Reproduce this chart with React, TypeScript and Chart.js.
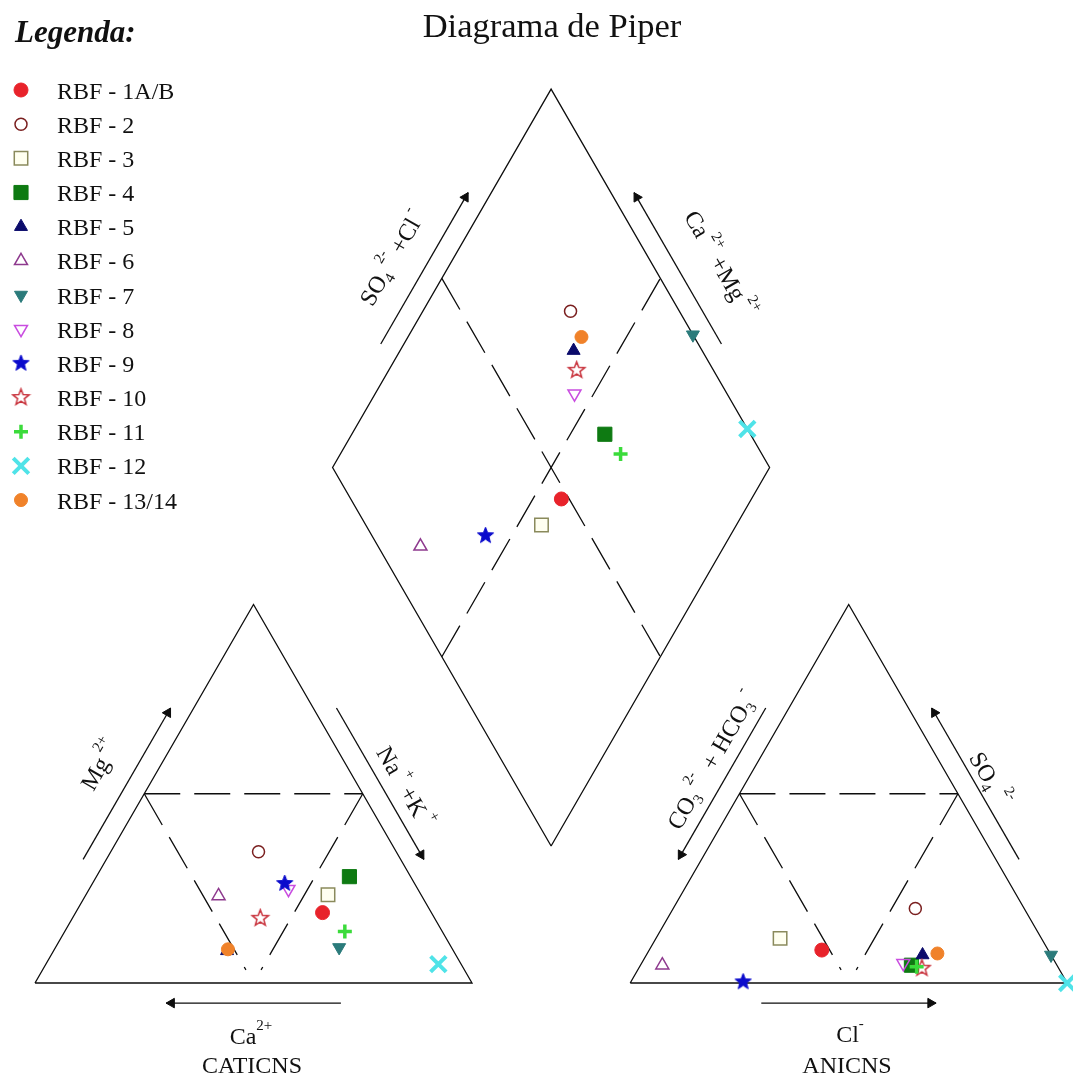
import React, { useEffect, useRef } from 'react';
import { Chart, registerables } from 'chart.js';
import { drawPoint } from 'chart.js/helpers';

Chart.register(...registerables);

// ---------------- data (percent of meq/L) ----------------
const samples = ['RBF - 1A/B', 'RBF - 2', 'RBF - 3', 'RBF - 4', 'RBF - 5', 'RBF - 6', 'RBF - 7', 'RBF - 8', 'RBF - 9', 'RBF - 10', 'RBF - 11', 'RBF - 12', 'RBF - 13/14'];
// cations
const caPct = [24.9, 31.5, 21.3, 14.0, 51.8, 46.5, 25.7, 29.6, 29.7, 39.9, 22.3, 5.2, 51.4];
const mgPct = [18.6, 34.7, 23.3, 28.1, 8.5, 23.0, 9.4, 24.8, 26.3, 17.1, 13.6, 5.0, 8.9];
const naKPct = [56.5, 33.8, 55.4, 57.9, 39.7, 30.5, 64.9, 45.6, 44.0, 43.0, 64.1, 89.8, 39.7];
// anions
const hco3Pct = [51.8, 24.9, 59.8, 33.3, 29.4, 90.3, 0.0, 34.9, 74.0, 31.3, 32.3, 0.0, 25.8];
const so4Pct = [8.7, 19.7, 11.8, 4.7, 7.4, 4.7, 7.4, 5.2, 0.3, 3.9, 4.3, 0.0, 7.8];
const clPct = [39.5, 55.4, 28.4, 62.0, 63.2, 5.0, 92.6, 59.9, 25.7, 64.8, 63.4, 100.0, 66.4];

const titleText = 'Diagrama de Piper';
const legendTitle = 'Legenda:';
const cationTitle = 'CATICNS';
const anionTitle = 'ANICNS';

// ---------------- marker styles ----------------
const markerShape = ['circle', 'circle', 'rect', 'rect', 'triangle', 'triangle', 'triangle', 'triangle', 'starFilled', 'starOpen', 'cross', 'crossRot', 'circle'];
const markerFill = ['#E8232B', 'rgba(255,255,255,0)', '#FFFFF0', '#0E7A12', '#0B0B6B', 'rgba(255,255,255,0)', '#2B7B7B', 'rgba(255,255,255,0)', '#0A0ACC', '#C8323C', '#3BDB3B', '#4FE3E8', '#F0822A'];
const markerLine = ['#E8232B', '#7A1F1F', '#8A8A5C', '#0E7A12', '#0B0B6B', '#8E3A8E', '#2B7B7B', '#C94DE0', '#0A0ACC', '#C8323C', '#3BDB3B', '#4FE3E8', '#F0822A'];
const markerRadius = [7, 6, 9.5, 10, 7.5, 7.5, 7.5, 7.5, 8, 8, 7, 11, 6.5];
const markerBorder = [1, 1.5, 1.5, 1, 1, 1.5, 1, 1.5, 1, 1.5, 3.5, 4, 1];
const markerRotation = [0, 0, 0, 0, 0, 0, 180, 180, 0, 0, 0, 0, 0];

// ---------------- geometry (layout) ----------------
const SIDE = 100;
const H = (SIDE * Math.sqrt(3)) / 2;
const OX = 136.2; // left vertex of anion triangle
const GAP = OX - SIDE;
const PXU = 4.37; // pixels per unit
const X_MIN = -35 / PXU;
const X_MAX = (1073 - 35) / PXU;
const Y_MIN = (983 - 1079) / PXU;
const Y_MAX = 983 / PXU;

type P = { x: number; y: number };
const DB: P = { x: SIDE + GAP / 2, y: (GAP * Math.sqrt(3)) / 2 };
const V = {
  cA: { x: 0, y: 0 }, cB: { x: SIDE, y: 0 }, cC: { x: SIDE / 2, y: H },
  aA: { x: OX, y: 0 }, aB: { x: OX + SIDE, y: 0 }, aC: { x: OX + SIDE / 2, y: H },
  dB: DB, dL: { x: DB.x - SIDE / 2, y: DB.y + H }, dT: { x: DB.x, y: DB.y + 2 * H }, dR: { x: DB.x + SIDE / 2, y: DB.y + H },
};

function cationXY(ca: number, mg: number, na: number): P {
  const t = ca + mg + na;
  return { x: ((na + mg / 2) / t) * SIDE, y: (mg / t) * H };
}
function anionXY(hco3: number, so4: number, cl: number): P {
  const t = hco3 + so4 + cl;
  return { x: OX + ((cl + so4 / 2) / t) * SIDE, y: (so4 / t) * H };
}
function diamondXY(caMg: number, so4Cl: number): P {
  return { x: DB.x + ((so4Cl - caMg) / 100) * (SIDE / 2), y: DB.y + ((so4Cl + caMg) / 100) * H };
}
function lerp(a: P, b: P, t: number): P {
  return { x: a.x + (b.x - a.x) * t, y: a.y + (b.y - a.y) * t };
}

const centC: P = { x: SIDE / 2, y: H / 3 };
const centA: P = { x: OX + SIDE / 2, y: H / 3 };
const centD: P = { x: DB.x, y: DB.y + H };

function edgeArrow(p: P, q: P, cent: P, t0 = 0.3, t1 = 0.7, off = 4.6) {
  const dx = q.x - p.x, dy = q.y - p.y;
  const len = Math.hypot(dx, dy);
  const d = { x: dx / len, y: dy / len };
  let n = { x: -d.y, y: d.x };
  const mid = lerp(p, q, 0.5);
  if ((mid.x - cent.x) * n.x + (mid.y - cent.y) * n.y < 0) n = { x: -n.x, y: -n.y };
  const s = lerp(p, q, t0), e = lerp(p, q, t1);
  const start = { x: s.x + n.x * off, y: s.y + n.y * off };
  const end = { x: e.x + n.x * off, y: e.y + n.y * off };
  const headR = 5.5;
  const head = { x: end.x - d.x * (headR / PXU), y: end.y - d.y * (headR / PXU) };
  const rot = (Math.atan2(d.x, d.y) * 180) / Math.PI;
  return { start, end, head, rot };
}

const arrows = [
  edgeArrow(V.cA, V.cC, centC),
  edgeArrow(V.cC, V.cB, centC),
  edgeArrow(V.cB, V.cA, centC),
  edgeArrow(V.aC, V.aA, centA),
  edgeArrow(V.aB, V.aC, centA),
  edgeArrow(V.aA, V.aB, centA),
  edgeArrow(V.dL, V.dT, centD),
  edgeArrow(V.dR, V.dT, centD),
];

const stopY = 3;
function innerTri(ox: number) {
  const l = { x: ox + SIDE / 4, y: H / 2 };
  const r = { x: ox + (3 * SIDE) / 4, y: H / 2 };
  const m = { x: ox + SIDE / 2, y: 0 };
  const f = (H / 2 - stopY) / (H / 2);
  return [[l, r], [l, lerp(l, m, f)], [r, lerp(r, m, f)]];
}

const solidLines: P[][] = [
  [V.cA, V.cB, V.cC, V.cA],
  [V.aA, V.aB, V.aC, V.aA],
  [V.dB, V.dL, V.dT, V.dR, V.dB],
];
const dashedLines: P[][] = [
  ...innerTri(0),
  ...innerTri(OX),
  [diamondXY(100, 50), diamondXY(0, 50)],
  [diamondXY(50, 0), diamondXY(50, 100)],
];

// ---------------- text labels ----------------
type Seg = { t: string; k?: 'sup' | 'sub' };
type Lbl = { segs: Seg[]; at: [number, number]; rot: number; size: number };
const U = (px: number, py: number): [number, number] => [(px - 35) / PXU, (983 - py) / PXU];
const axisLabels: Lbl[] = [
  { segs: [{ t: 'Mg' }, { t: ' 2+', k: 'sup' }], at: U(100, 765), rot: -60, size: 24 },
  { segs: [{ t: 'Na' }, { t: ' +', k: 'sup' }, { t: ' +K' }, { t: ' +', k: 'sup' }], at: U(405, 787), rot: 60, size: 24 },
  { segs: [{ t: 'Ca' }, { t: '2+', k: 'sup' }], at: U(251, 1036), rot: 0, size: 24 },
  { segs: [{ t: cationTitle }], at: U(252, 1065), rot: 0, size: 24 },
  { segs: [{ t: 'CO' }, { t: '3', k: 'sub' }, { t: ' 2-', k: 'sup' }, { t: '  + HCO' }, { t: '3', k: 'sub' }, { t: ' -', k: 'sup' }], at: U(712, 760), rot: -60, size: 24 },
  { segs: [{ t: 'SO' }, { t: '4', k: 'sub' }, { t: '  2-', k: 'sup' }], at: U(990, 779), rot: 60, size: 24 },
  { segs: [{ t: 'Cl' }, { t: '-', k: 'sup' }], at: U(850, 1034), rot: 0, size: 24 },
  { segs: [{ t: anionTitle }], at: U(847, 1065), rot: 0, size: 24 },
  { segs: [{ t: 'SO' }, { t: '4', k: 'sub' }, { t: ' 2-', k: 'sup' }, { t: ' +Cl' }, { t: ' -', k: 'sup' }], at: U(392, 258), rot: -60, size: 24 },
  { segs: [{ t: 'Ca' }, { t: ' 2+', k: 'sup' }, { t: ' +Mg' }, { t: ' 2+', k: 'sup' }], at: U(720, 264), rot: 60, size: 24 },
];

const SERIF = '"Liberation Serif", "Times New Roman", serif';
const INK = '#111';

function drawRich(ctx: CanvasRenderingContext2D, l: Lbl, cx: number, cy: number) {
  const main = `${l.size}px ${SERIF}`;
  const small = `${Math.round(l.size * 0.64)}px ${SERIF}`;
  const widths = l.segs.map((s) => {
    ctx.font = s.k ? small : main;
    return ctx.measureText(s.t).width;
  });
  const total = widths.reduce((a, b) => a + b, 0);
  ctx.save();
  ctx.translate(cx, cy);
  ctx.rotate((l.rot * Math.PI) / 180);
  ctx.textAlign = 'left';
  ctx.textBaseline = 'alphabetic';
  ctx.fillStyle = INK;
  const base = l.size * 0.33;
  let x = -total / 2;
  l.segs.forEach((s, i) => {
    ctx.font = s.k ? small : main;
    let y = base;
    if (s.k === 'sup') y = base - l.size * 0.58;
    if (s.k === 'sub') y = base + l.size * 0.2;
    ctx.fillText(s.t, x, y);
    x += widths[i];
  });
  ctx.restore();
}

function makeStar(fill: string | null, stroke: string | null, lw: number, R = 8.5, r = 3.6) {
  const c = document.createElement('canvas');
  const s = 21;
  c.width = s;
  c.height = s;
  const g = c.getContext('2d')!;
  g.beginPath();
  for (let i = 0; i < 10; i++) {
    const a = -Math.PI / 2 + (i * Math.PI) / 5;
    const rr = i % 2 === 0 ? R : r;
    g.lineTo(s / 2 + rr * Math.cos(a), s / 2 + rr * Math.sin(a));
  }
  g.closePath();
  if (fill) { g.fillStyle = fill; g.fill(); }
  if (stroke) { g.strokeStyle = stroke; g.lineWidth = lw; g.lineJoin = 'miter'; g.stroke(); }
  return c;
}

const textPlugin = {
  id: 'piperText',
  afterDraw(chart: any) {
    const ctx: CanvasRenderingContext2D = chart.ctx;
    const xs = chart.scales.x, ys = chart.scales.y;
    ctx.save();
    // title
    ctx.fillStyle = INK;
    ctx.textAlign = 'center';
    ctx.textBaseline = 'alphabetic';
    ctx.font = `34.5px ${SERIF}`;
    ctx.fillText(titleText, 552, 37);
    // legend
    ctx.textAlign = 'left';
    ctx.font = `italic bold 31px ${SERIF}`;
    ctx.fillText(legendTitle, 15, 42);
    const sampleSets = chart.data.datasets.filter((d: any) => d._sample !== undefined);
    sampleSets.forEach((d: any) => {
      const i = d._sample;
      const y = 90 + i * 34.17;
      ctx.save();
      ctx.fillStyle = d.pointBackgroundColor;
      ctx.strokeStyle = d.pointBorderColor;
      ctx.lineWidth = d.pointBorderWidth;
      drawPoint(ctx, { pointStyle: d.pointStyle, radius: d.pointRadius, rotation: d.pointRotation, borderWidth: d.pointBorderWidth } as any, 21, y);
      ctx.restore();
      ctx.fillStyle = INK;
      ctx.font = `24px ${SERIF}`;
      ctx.textAlign = 'left';
      ctx.fillText(d.label, 57, y + 8.5);
    });
    axisLabels.forEach((l) => {
      drawRich(ctx, l, xs.getPixelForValue(l.at[0]), ys.getPixelForValue(l.at[1]));
    });
    ctx.restore();
  },
};

export default function App() {
  const ref = useRef<HTMLCanvasElement>(null);
  useEffect(() => {
    if (!ref.current) return;
    const stars: Record<string, HTMLCanvasElement> = {
      starFilled: makeStar('#0A0ACC', '#0A0ACC', 1),
      starOpen: makeStar(null, '#C8323C', 1.5),
    };
    const sampleDatasets = samples.map((name, i) => {
      const cat = cationXY(caPct[i], mgPct[i], naKPct[i]);
      const an = anionXY(hco3Pct[i], so4Pct[i], clPct[i]);
      const tc = caPct[i] + mgPct[i] + naKPct[i];
      const ta = hco3Pct[i] + so4Pct[i] + clPct[i];
      const dia = diamondXY(((caPct[i] + mgPct[i]) / tc) * 100, ((so4Pct[i] + clPct[i]) / ta) * 100);
      const shape = markerShape[i];
      return {
        label: name,
        _sample: i,
        data: [cat, an, dia],
        showLine: false,
        pointStyle: stars[shape] || shape,
        pointRadius: markerRadius[i],
        pointHoverRadius: markerRadius[i],
        pointBackgroundColor: markerFill[i],
        pointBorderColor: markerLine[i],
        pointBorderWidth: markerBorder[i],
        pointRotation: markerRotation[i],
        order: 100 - i,
      } as any;
    });
    const lineDs = (pts: P[], dashed: boolean) => ({
      data: pts,
      showLine: true,
      pointRadius: 0,
      borderColor: '#0d0d0d',
      borderWidth: 1.3,
      borderDash: dashed ? [36, 14] : [],
      fill: false,
      tension: 0,
      order: 1000,
    });
    const arrowLines = arrows.map((a) => ({
      data: [a.start, a.end],
      showLine: true,
      pointRadius: 0,
      borderColor: '#0d0d0d',
      borderWidth: 1.3,
      fill: false,
      order: 900,
    }));
    const arrowHeads = {
      data: arrows.map((a) => a.head),
      showLine: false,
      pointStyle: 'triangle',
      pointRadius: 5.5,
      pointBackgroundColor: '#0d0d0d',
      pointBorderColor: '#0d0d0d',
      pointBorderWidth: 1,
      pointRotation: arrows.map((a) => a.rot),
      order: 899,
    };
    const chart = new Chart(ref.current, {
      type: 'scatter',
      data: {
        datasets: [
          ...solidLines.map((l) => lineDs(l, false)),
          ...dashedLines.map((l) => lineDs(l, true)),
          ...arrowLines,
          arrowHeads,
          ...sampleDatasets,
        ] as any,
      },
      options: {
        responsive: false,
        animation: false,
        devicePixelRatio: 1,
        events: [],
        layout: { padding: 0, autoPadding: false },
        plugins: { legend: { display: false }, tooltip: { enabled: false } },
        scales: {
          x: { type: 'linear', min: X_MIN, max: X_MAX, display: false },
          y: { type: 'linear', min: Y_MIN, max: Y_MAX, display: false },
        },
      },
      plugins: [textPlugin],
    });
    return () => chart.destroy();
  }, []);
  return (
    <div style={{ position: 'fixed', left: 0, top: 0, width: 1073, height: 1079, background: '#fff' }}>
      <canvas ref={ref} width={1073} height={1079} style={{ display: 'block' }} />
    </div>
  );
}
